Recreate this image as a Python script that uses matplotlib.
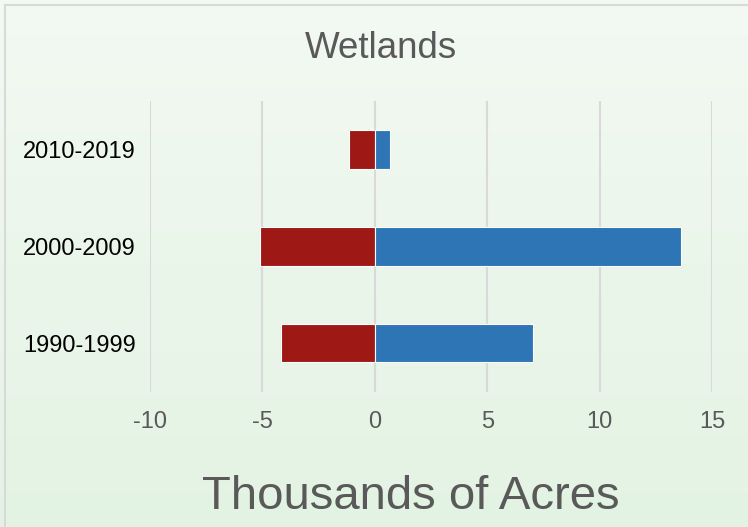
import matplotlib
matplotlib.use("Agg")
import matplotlib.pyplot as plt
import numpy as np
from matplotlib.patches import Rectangle

plt.rcParams['font.family'] = ['Liberation Sans', 'DejaVu Sans']

categories = ["1990-1999", "2000-2009", "2010-2019"]
losses = [-4.17, -5.09, -1.13]
gains = [7.05, 13.6, 0.68]
xticks = [-10, -5, 0, 5, 10, 15]
xtick_labels = ["-10", "-5", "0", "5", "10", "15"]
title = "Wetlands"
xlabel = "Thousands of Acres"

W, H = 748, 527
fig = plt.figure(figsize=(W / 100, H / 100), dpi=100)

# background gradient
bg = fig.add_axes([0, 0, 1, 1], zorder=-10)
top = np.array([0xf3, 0xf9, 0xf3]) / 255
bot = np.array([0xe3, 0xf3, 0xe3]) / 255
t = np.linspace(0, 1, 256)[:, None]
grad = top[None, :] * (1 - t) + bot[None, :] * t
bg.imshow(grad[:, None, :], aspect='auto', extent=[0, 1, 0, 1])
bg.add_patch(Rectangle((5 / W, -0.1), 1.2, 1 - 5 / H + 0.1, fill=False,
                       edgecolor='#d9d9d9', linewidth=1.5, transform=bg.transAxes))
bg.set_xlim(0, 1)
bg.set_ylim(0, 1)
bg.axis('off')

left, right = 150 / W, 712 / W
bottom, topf = 1 - 391.5 / H, 1 - 101 / H
ax = fig.add_axes([left, bottom, right - left, topf - bottom])
ax.patch.set_alpha(0)

y = np.arange(len(categories))
ax.barh(y, losses, height=0.40, color='#9e1915', edgecolor='white', linewidth=0.8, zorder=3)
ax.barh(y, gains, height=0.40, color='#2e75b5', edgecolor='white', linewidth=0.8, zorder=3)

ax.set_xlim(-10, 15)
ax.set_ylim(-0.5, 2.5)
ax.set_xticks(xticks)
ax.set_xticklabels(xtick_labels)
ax.set_yticks(y)
ax.set_yticklabels(categories)
ax.grid(axis='x', color='#d9d9d9', linewidth=1.5, zorder=0)
ax.set_axisbelow(True)
for s in ax.spines.values():
    s.set_visible(False)
ax.tick_params(axis='both', length=0)
ax.tick_params(axis='x', labelsize=17, labelcolor='#595959', pad=14)
ax.tick_params(axis='y', labelsize=17, labelcolor='#000000', pad=10)

fig.text(381 / W, 1 - 48 / H, title, ha='center', va='center', fontsize=26.5, color='#595959')
fig.text(411 / W, 1 - 497 / H, xlabel, ha='center', va='center', fontsize=34, color='#595959')

fig.savefig("out.png", dpi=100)
